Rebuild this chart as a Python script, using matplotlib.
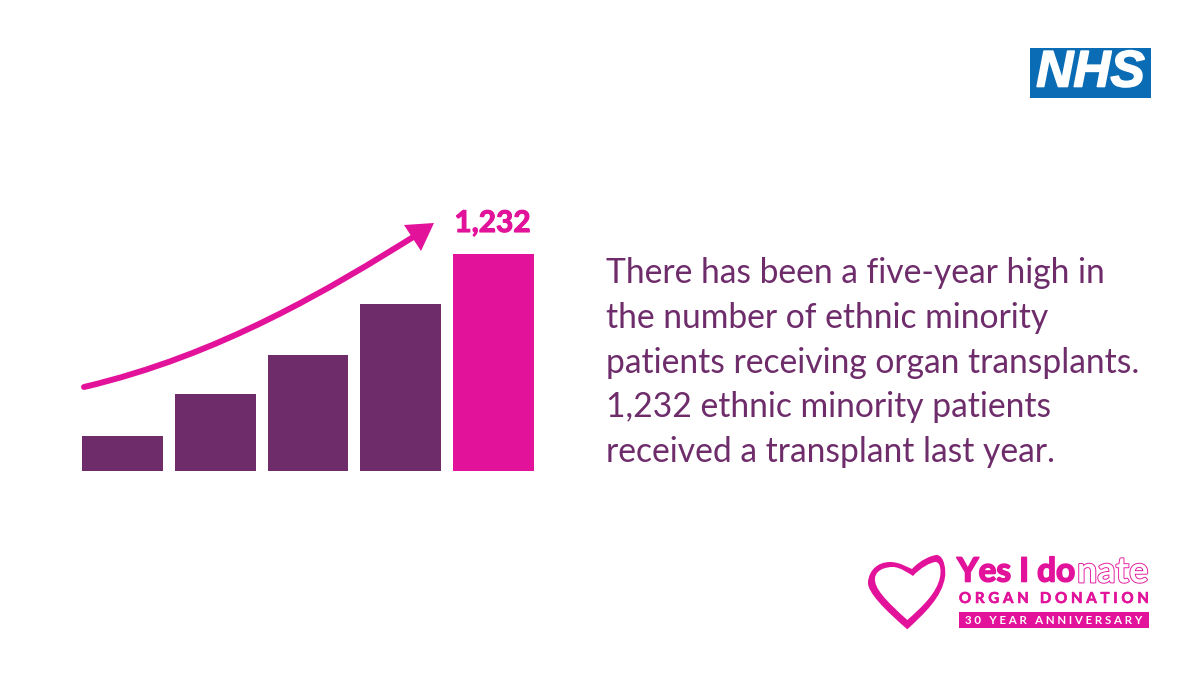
import matplotlib
matplotlib.use('Agg')
import matplotlib.pyplot as plt
import matplotlib.patheffects as pe
from matplotlib.path import Path
from matplotlib.patches import PathPatch, Polygon, Rectangle

# values, only the last one is printed on the picture
years = [0, 1, 2, 3, 4]
patients = [199, 438, 658, 948, 1232]
bar_colors = ['#6E2C6B', '#6E2C6B', '#6E2C6B', '#6E2C6B', '#E2129B']
value_label = '1,232'
body_lines = ['There has been a five-year high in',
              'the number of ethnic minority',
              'patients receiving organ transplants.',
              '1,232 ethnic minority patients',
              'received a transplant last year.']

PURPLE = '#6E2C6B'
PINK = '#E2129B'
BLUE = '#0A6CB4'

plt.rcParams['font.family'] = ['Lato', 'DejaVu Sans']

fig = plt.figure(figsize=(12, 6.75), dpi=100, facecolor='white')

# bars: axes spans the bars exactly, 1232 sits at y=254px and 0 at y=471px
ax1 = fig.add_axes([82 / 1200, 1 - 471 / 675, (534 - 82) / 1200, (471 - 254.3) / 675])
ax1.bar(years, patients, width=0.873, color=bar_colors)
ax1.set_xlim(-0.4365, 4.4365)
ax1.set_ylim(0, 1232)
ax1.axis('off')

# everything else is placed in image pixels
ax2 = fig.add_axes([0, 0, 1, 1], zorder=2)
ax2.set_xlim(0, 1200)
ax2.set_ylim(675, 0)
ax2.axis('off')
ax2.patch.set_alpha(0)

# arrow
curve = Path([(84, 387), (220, 355), (330, 289), (418, 234)],
             [Path.MOVETO, Path.CURVE4, Path.CURVE4, Path.CURVE4])
ax2.add_patch(PathPatch(curve, fill=False, edgecolor=PINK, lw=4.3, capstyle='round'))
ax2.add_patch(Polygon([(434, 223), (404, 225), (421, 251)], closed=True, color=PINK, lw=0))

ax2.text(492.5, 223, value_label, color=PINK, fontsize=21.5, fontweight='bold',
         ha='center', va='center',
         path_effects=[pe.withStroke(linewidth=0.8, foreground=PINK)])

for i, line in enumerate(body_lines):
    ax2.text(606, 273 + i * 44.8, line, color=PURPLE, fontsize=24.2,
             ha='left', va='center')

# NHS logo
ax2.add_patch(Rectangle((1030, 48), 121, 50, color=BLUE, lw=0))
ax2.text(1090.5, 73, 'NHS', color='white', fontsize=37, fontweight='bold', style='italic',
         family='Liberation Sans', ha='center', va='center',
         path_effects=[pe.withStroke(linewidth=1.2, foreground='white')])

# heart logo, outer outline then inner outline the other way round for the hole
heart_outer = [(907.3, 629.3),
               (885, 610), (867, 592), (868, 582),
               (869, 570), (878, 562), (890, 562),
               (900, 562), (909, 568), (912, 569),
               (920, 560), (932, 555), (937, 555),
               (945, 556), (946, 572), (945, 577),
               (942, 597), (925, 613), (907.3, 629.3)]
heart_inner = [(907.3, 620),
               (885, 600), (874, 588), (875, 578),
               (876, 570), (885, 567), (893, 567),
               (900, 567), (910, 574), (913, 576),
               (920, 568), (931, 562), (936, 562),
               (941, 563), (941, 572), (940, 577),
               (937, 593), (922, 607), (907.3, 620)]
codes = [Path.MOVETO] + [Path.CURVE4] * 18
heart = Path(heart_outer + heart_inner[::-1], codes + codes)
ax2.add_patch(PathPatch(heart, facecolor=PINK, edgecolor='none'))

ax2.text(957, 572, 'Yes I do', color=PINK, fontsize=24, fontweight='bold',
         ha='left', va='center',
         path_effects=[pe.withStroke(linewidth=1.2, foreground=PINK)])
ax2.text(1077, 572, 'nate', color='white', fontsize=26, fontweight='bold',
         ha='left', va='center',
         path_effects=[pe.withStroke(linewidth=1.3, foreground=PINK)])
ax2.text(1054, 599, 'O R G A N   D O N A T I O N', color=PINK, fontsize=10.9,
         fontweight='bold', ha='center', va='center',
         path_effects=[pe.withStroke(linewidth=0.4, foreground=PINK)])
ax2.add_patch(Rectangle((959, 612), 190, 16, color=PINK, lw=0))
ax2.text(1054, 620.5, '3 0   Y E A R   A N N I V E R S A R Y', color='white', fontsize=8.3,
         fontweight='bold', ha='center', va='center')

fig.savefig('out.png', dpi=100)
